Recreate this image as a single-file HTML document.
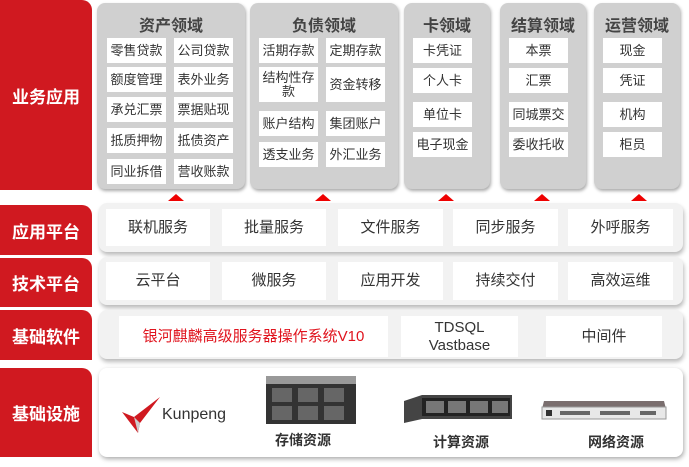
<!DOCTYPE html><html><head><meta charset="utf-8"><style>
*{margin:0;padding:0;box-sizing:border-box}
body{width:689px;height:467px;background:#fff;position:relative;overflow:hidden;font-family:"Liberation Sans","Noto Sans CJK SC",sans-serif;color:#333}
.a{position:absolute}
.lbl{position:absolute;left:0;width:92px;background:#d01920;color:#fff;font-weight:bold;font-size:17px;display:flex;align-items:center;justify-content:center;border-radius:0 10px 0 0}
.dom{position:absolute;top:3px;height:186px;background:#d0d0d0;border-radius:8px;box-shadow:1px 2px 3px #aaa}
.dt{position:absolute;top:9px;left:0;right:0;text-align:center;font-weight:bold;font-size:16px;color:#444}
.c{position:absolute;background:#fff;font-size:13px;display:flex;align-items:center;justify-content:center;text-align:center;line-height:14px;color:#333}
.pan{position:absolute;left:99px;width:584px;background:#f2f2f2;border-radius:8px;box-shadow:1px 3px 4px #bbb}
.pc{position:absolute;background:#fff;font-size:15px;display:flex;align-items:center;justify-content:center;color:#333;text-align:center;line-height:18px}
.tri{position:absolute;top:194px;width:0;height:0;border-left:8px solid transparent;border-right:8px solid transparent;border-bottom:7px solid #e00}
</style></head><body>
<div class="lbl" style="top:0;height:190px">业务应用</div>
<div class="lbl" style="top:205px;height:50px">应用平台</div>
<div class="lbl" style="top:258px;height:49px">技术平台</div>
<div class="lbl" style="top:310px;height:50px">基础软件</div>
<div class="lbl" style="top:368px;height:89px">基础设施</div>

<div class="dom" style="left:97px;width:148px"><div class="dt">资产领域</div></div>
<div class="dom" style="left:250px;width:148px"><div class="dt">负债领域</div></div>
<div class="dom" style="left:404px;width:86px"><div class="dt">卡领域</div></div>
<div class="dom" style="left:500px;width:86px"><div class="dt">结算领域</div></div>
<div class="dom" style="left:594px;width:86px"><div class="dt">运营领域</div></div>

<div class="c" style="left:107px;top:38px;width:59px;height:25px">零售贷款</div>
<div class="c" style="left:174px;top:38px;width:59px;height:25px">公司贷款</div>
<div class="c" style="left:107px;top:67px;width:59px;height:25px">额度管理</div>
<div class="c" style="left:174px;top:67px;width:59px;height:25px">表外业务</div>
<div class="c" style="left:107px;top:97px;width:59px;height:25px">承兑汇票</div>
<div class="c" style="left:174px;top:97px;width:59px;height:25px">票据贴现</div>
<div class="c" style="left:107px;top:128px;width:59px;height:25px">抵质押物</div>
<div class="c" style="left:174px;top:128px;width:59px;height:25px">抵债资产</div>
<div class="c" style="left:107px;top:159px;width:59px;height:25px">同业拆借</div>
<div class="c" style="left:174px;top:159px;width:59px;height:25px">营收账款</div>

<div class="c" style="left:259px;top:38px;width:59px;height:25px">活期存款</div>
<div class="c" style="left:326px;top:38px;width:59px;height:25px">定期存款</div>
<div class="c" style="left:259px;top:67px;width:59px;height:35px">结构性存<br>款</div>
<div class="c" style="left:326px;top:67px;width:59px;height:35px">资金转移</div>
<div class="c" style="left:259px;top:111px;width:59px;height:25px">账户结构</div>
<div class="c" style="left:326px;top:111px;width:59px;height:25px">集团账户</div>
<div class="c" style="left:259px;top:142px;width:59px;height:25px">透支业务</div>
<div class="c" style="left:326px;top:142px;width:59px;height:25px">外汇业务</div>

<div class="c" style="left:413px;top:38px;width:59px;height:25px">卡凭证</div>
<div class="c" style="left:413px;top:68px;width:59px;height:25px">个人卡</div>
<div class="c" style="left:413px;top:102px;width:59px;height:25px">单位卡</div>
<div class="c" style="left:413px;top:132px;width:59px;height:25px">电子现金</div>
<div class="c" style="left:509px;top:38px;width:59px;height:25px">本票</div>
<div class="c" style="left:509px;top:68px;width:59px;height:25px">汇票</div>
<div class="c" style="left:509px;top:102px;width:59px;height:25px">同城票交</div>
<div class="c" style="left:509px;top:132px;width:59px;height:25px">委收托收</div>
<div class="c" style="left:603px;top:38px;width:59px;height:25px">现金</div>
<div class="c" style="left:603px;top:68px;width:59px;height:25px">凭证</div>
<div class="c" style="left:603px;top:102px;width:59px;height:25px">机构</div>
<div class="c" style="left:603px;top:132px;width:59px;height:25px">柜员</div>

<div class="tri" style="left:168px"></div>
<div class="tri" style="left:315px"></div>
<div class="tri" style="left:438px"></div>
<div class="tri" style="left:534px"></div>
<div class="tri" style="left:631px"></div>

<div class="pan" style="top:203px;height:49px"></div>
<div class="pc" style="left:106px;top:209px;width:104px;height:37px">联机服务</div>
<div class="pc" style="left:222px;top:209px;width:104px;height:37px">批量服务</div>
<div class="pc" style="left:338px;top:209px;width:105px;height:37px">文件服务</div>
<div class="pc" style="left:453px;top:209px;width:105px;height:37px">同步服务</div>
<div class="pc" style="left:568px;top:209px;width:105px;height:37px">外呼服务</div>

<div class="pan" style="top:257px;height:48px"></div>
<div class="pc" style="left:106px;top:262px;width:104px;height:38px">云平台</div>
<div class="pc" style="left:222px;top:262px;width:104px;height:38px">微服务</div>
<div class="pc" style="left:338px;top:262px;width:105px;height:38px">应用开发</div>
<div class="pc" style="left:453px;top:262px;width:105px;height:38px">持续交付</div>
<div class="pc" style="left:568px;top:262px;width:105px;height:38px">高效运维</div>

<div class="pan" style="top:310px;height:49px"></div>
<div class="pc" style="left:119px;top:316px;width:269px;height:41px;color:#e0141e">银河麒麟高级服务器操作系统V10</div>
<div class="pc" style="left:401px;top:316px;width:117px;height:41px">TDSQL<br>Vastbase</div>
<div class="pc" style="left:546px;top:316px;width:116px;height:41px">中间件</div>

<div class="pan" style="top:368px;height:89px;background:#fff;box-shadow:1px 2px 5px #aaa"></div>
<svg class="a" style="left:120px;top:395px" width="42" height="40"><polygon points="40,2 14,22 2,17 18,38 20,28" fill="#d01920"/><polygon points="14,22 20,28 18,38" fill="#ccc"/></svg>
<div class="a" style="left:162px;top:406px;font-size:16px;color:#333">Kunpeng</div>
<svg class="a" style="left:264px;top:372px" width="94" height="54"><rect x="2" y="10" width="90" height="42" fill="#333"/><rect x="2" y="4" width="90" height="8" fill="#999"/><g fill="#666"><rect x="8" y="16" width="20" height="14"/><rect x="34" y="16" width="20" height="14"/><rect x="60" y="16" width="20" height="14"/><rect x="8" y="34" width="20" height="14"/><rect x="34" y="34" width="20" height="14"/><rect x="60" y="34" width="20" height="14"/></g></svg>
<div class="a" style="left:275px;top:430px;font-size:14px;font-weight:bold">存储资源</div>
<svg class="a" style="left:402px;top:393px" width="112" height="32"><polygon points="2,8 20,2 110,2 110,26 20,26 2,30" fill="#444"/><rect x="20" y="5" width="88" height="18" fill="#222"/><g fill="#777"><rect x="24" y="8" width="18" height="12"/><rect x="46" y="8" width="18" height="12"/><rect x="68" y="8" width="18" height="12"/><rect x="90" y="8" width="16" height="12"/></g></svg>
<div class="a" style="left:433px;top:432px;font-size:14px;font-weight:bold">计算资源</div>
<svg class="a" style="left:540px;top:397px" width="128" height="24"><polygon points="4,4 124,4 126,12 2,12" fill="#7a6e6e"/><rect x="2" y="10" width="124" height="12" fill="#e8e8e8" stroke="#999"/><rect x="6" y="13" width="6" height="6" fill="#333"/><g fill="#666"><rect x="20" y="14" width="30" height="4"/><rect x="60" y="14" width="30" height="4"/><rect x="100" y="14" width="16" height="4"/></g></svg>
<div class="a" style="left:588px;top:432px;font-size:14px;font-weight:bold">网络资源</div>
</body></html>
